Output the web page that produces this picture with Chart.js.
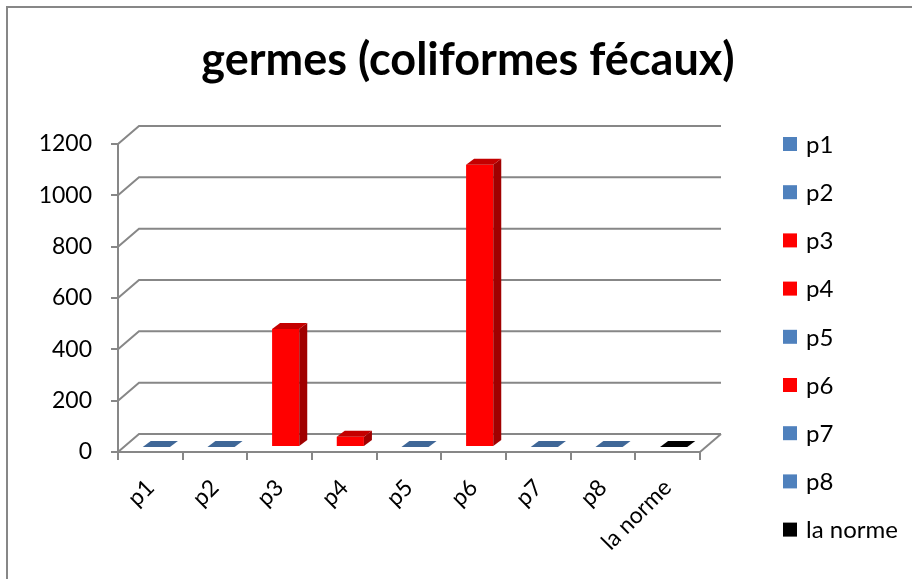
<!DOCTYPE html>
<html>
<head>
<meta charset="utf-8">
<script src="https://cdn.jsdelivr.net/npm/chart.js@4.4.0/dist/chart.umd.min.js"></script>
<style>
  html, body { margin: 0; padding: 0; background: #fff; }
  #wrap { width: 912px; height: 579px; }
</style>
</head>
<body>
<div id="wrap"><canvas id="germes-chart" width="912" height="579"></canvas></div>
<script>
// data
const categories = ['p1', 'p2', 'p3', 'p4', 'p5', 'p6', 'p7', 'p8', 'la norme'];
const counts = [0, 0, 460, 40, 0, 1100, 0, 0, 0];
const yTicks = [0, 200, 400, 600, 800, 1000, 1200];
const chartTitle = 'germes (coliformes fécaux)';

// styles
const barColors = ['#4F81BD', '#4F81BD', '#FF0000', '#FF0000', '#4F81BD', '#FF0000', '#4F81BD', '#4F81BD', '#000000'];
const shade = {
  '#4F81BD': { top: '#3F6797', side: '#385D8A' },
  '#FF0000': { top: '#C40000', side: '#A00000' },
  '#000000': { top: '#000000', side: '#000000' }
};
const gridColor = '#878787';
const font = 'Lato';
const wallDepth = { x: 21, y: -18 };  // back wall offset
const barShift = { x: 6, y: -5 };     // bars sit mid-depth
const barDepth = { x: 8, y: -6 };

const threeD = {
  id: 'threeD',
  beforeDraw(chart) {
    const ctx = chart.ctx;
    ctx.save();
    ctx.strokeStyle = gridColor;
    ctx.lineWidth = 2;
    ctx.beginPath();
    ctx.moveTo(7, 600);
    ctx.lineTo(7, 7);
    ctx.lineTo(920, 7);
    ctx.stroke();
    ctx.restore();
  },
  beforeDatasetsDraw(chart) {
    const { ctx, chartArea: a, scales: { y } } = chart;
    ctx.save();
    ctx.strokeStyle = gridColor;
    ctx.lineWidth = 2;
    yTicks.forEach(v => {
      const py = y.getPixelForValue(v);
      ctx.beginPath();
      ctx.moveTo(a.left, py);
      ctx.lineTo(a.left + wallDepth.x, py + wallDepth.y);
      ctx.lineTo(a.right + wallDepth.x, py + wallDepth.y);
      ctx.stroke();
    });
    // right edge of the floor
    const py0 = y.getPixelForValue(0);
    ctx.beginPath();
    ctx.moveTo(a.right, py0);
    ctx.lineTo(a.right + wallDepth.x, py0 + wallDepth.y);
    ctx.stroke();
    ctx.restore();
  },
  beforeDatasetDraw(chart) {
    chart.ctx.save();
    chart.ctx.translate(barShift.x, barShift.y);
  },
  afterDatasetDraw(chart, args) {
    const ctx = chart.ctx;
    args.meta.data.forEach((bar, i) => {
      const { x, y, base, width } = bar.getProps(['x', 'y', 'base', 'width'], true);
      const l = x - width / 2, r = x + width / 2;
      const c = shade[barColors[i]];
      // side face
      ctx.fillStyle = c.side;
      ctx.beginPath();
      ctx.moveTo(r, base);
      ctx.lineTo(r, y);
      ctx.lineTo(r + barDepth.x, y + barDepth.y);
      ctx.lineTo(r + barDepth.x, base + barDepth.y);
      ctx.closePath();
      ctx.fill();
      // top face
      ctx.fillStyle = c.top;
      ctx.beginPath();
      ctx.moveTo(l, y);
      ctx.lineTo(r, y);
      ctx.lineTo(r + barDepth.x, y + barDepth.y);
      ctx.lineTo(l + barDepth.x, y + barDepth.y);
      ctx.closePath();
      ctx.fill();
    });
    ctx.restore();
  },
  afterDraw(chart) {
    const ctx = chart.ctx;
    ctx.save();
    // title
    ctx.fillStyle = '#000';
    ctx.font = 'bold 45px ' + font;
    ctx.textAlign = 'center';
    ctx.textBaseline = 'alphabetic';
    ctx.fillText(chartTitle, 468, 75);
    // legend
    ctx.font = '24px ' + font;
    ctx.textAlign = 'left';
    ctx.textBaseline = 'middle';
    categories.forEach((name, i) => {
      const cy = 144 + i * 48.2;
      ctx.fillStyle = barColors[i];
      ctx.fillRect(783, cy - 7, 14, 14);
      ctx.fillStyle = '#000';
      ctx.fillText(name, 806, cy + 1);
    });
    ctx.restore();
  }
};

new Chart(document.getElementById('germes-chart').getContext('2d'), {
  type: 'bar',
  data: {
    labels: categories,
    datasets: [{
      label: chartTitle,
      data: counts,
      backgroundColor: barColors,
      borderWidth: 0,
      barPercentage: 0.42,
      categoryPercentage: 1,
      clip: false
    }]
  },
  options: {
    responsive: false,
    devicePixelRatio: 1,
    animation: false,
    layout: {
      padding: { left: 0, top: 144, right: 212, bottom: 27 }
    },
    plugins: {
      legend: { display: false },
      title: { display: false },
      tooltip: { enabled: false }
    },
    scales: {
      x: {
        afterFit: s => { s.height = 100; },
        grid: { display: true, drawOnChartArea: false, offset: true, tickLength: 8, color: gridColor, lineWidth: 2 },
        border: { color: gridColor, width: 2 },
        ticks: { minRotation: 45, maxRotation: 45, padding: 14, color: '#000', font: { family: font, size: 23 } }
      },
      y: {
        min: 0,
        max: 1200,
        afterFit: s => { s.width = 118; },
        afterBuildTicks: s => { s.ticks = yTicks.map(v => ({ value: v })); },
        grid: { display: true, drawOnChartArea: false, tickLength: 7, color: gridColor, lineWidth: 2 },
        border: { color: gridColor, width: 2 },
        ticks: { padding: 19, color: '#000', font: { family: font, size: 23 }, callback: v => String(v) }
      }
    }
  },
  plugins: [threeD]
});
</script>
</body>
</html>
